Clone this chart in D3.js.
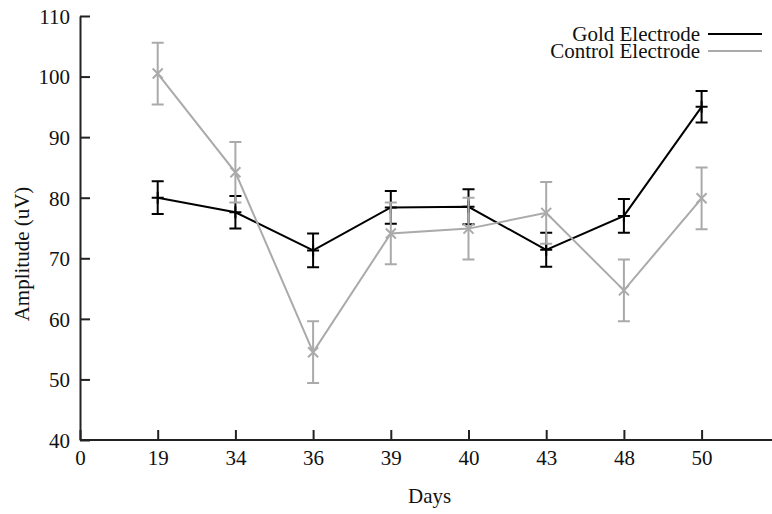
<!DOCTYPE html>
<html>
<head>
<meta charset="utf-8">
<script src="https://cdn.jsdelivr.net/npm/d3@7"></script>
<style>
	body { margin: 0; background: #fff; }
	svg { display: block; }
	text { font-family: "Liberation Serif", "DejaVu Serif", serif; fill: #111; }
</style>
</head>
<body>
<svg id="chart"></svg>
<script>
// data
const days = ['19', '34', '36', '39', '40', '43', '48', '50'];
const tickLabels = ['0', '19', '34', '36', '39', '40', '43', '48', '50'];
const goldValues = [80.0, 77.6, 71.3, 78.4, 78.5, 71.4, 77.0, 95.0];
const goldErrors = [2.7, 2.7, 2.8, 2.7, 2.9, 2.8, 2.8, 2.6];
const controlValues = [100.5, 84.2, 54.5, 74.1, 74.9, 77.5, 64.7, 79.9];
const controlErrors = [5.1, 5.0, 5.1, 5.1, 5.1, 5.1, 5.1, 5.1];
const yTicks = [40, 50, 60, 70, 80, 90, 100, 110];

const width = 772;
const height = 514;
const margin = { left: 80, bottom: 74, top: 16 };

const svg = d3.select('#chart').attr('width', width).attr('height', height);

// slot 0 is the origin, days sit on slots 1..8
const x = d3.scaleLinear().domain([0, 9]).range([margin.left, margin.left + 9 * 77.7]);
const y = d3.scaleLinear().domain([40, 110]).range([height - margin.bottom, margin.top]);

const series = [
	{ name: 'Gold Electrode', values: goldValues, errors: goldErrors, color: '#000', marker: 'plus' },
	{ name: 'Control Electrode', values: controlValues, errors: controlErrors, color: '#aaaaaa', marker: 'cross' }
];

// axes
const xAxis = d3.axisBottom(x)
	.tickValues(d3.range(0, 9))
	.tickFormat((d) => tickLabels[d])
	.tickSizeInner(-10)
	.tickSizeOuter(0)
	.tickPadding(10);

const yAxis = d3.axisLeft(y)
	.tickValues(yTicks)
	.tickSizeInner(-10)
	.tickSizeOuter(0)
	.tickPadding(10);

const gx = svg.append('g')
	.attr('transform', `translate(0,${y(40)})`)
	.call(xAxis);

const gy = svg.append('g')
	.attr('transform', `translate(${margin.left},0)`)
	.call(yAxis);

[gx, gy].forEach((g) => {
	g.select('.domain').attr('stroke', '#222').attr('stroke-width', 2);
	g.selectAll('.tick line').attr('stroke', '#222').attr('stroke-width', 2);
	g.selectAll('.tick text')
		.attr('font-family', '"Liberation Serif", serif')
		.attr('font-size', 21)
		.attr('fill', '#111');
});
gx.selectAll('.tick text').attr('dy', '0.71em');
gy.selectAll('.tick text').attr('dy', '0.35em');
// stretch the x axis to the right edge
gx.select('.domain').attr('d', `M${margin.left},0H${width}`);

// axis labels
svg.append('text')
	.attr('x', x(4.5))
	.attr('y', 503)
	.attr('text-anchor', 'middle')
	.attr('font-size', 21)
	.text('Days');

svg.append('text')
	.attr('transform', `translate(29,254) rotate(-90)`)
	.attr('text-anchor', 'middle')
	.attr('font-size', 21)
	.text('Amplitude (uV)');

const line = d3.line()
	.x((d, i) => x(i + 1))
	.y((d) => y(d));

const cap = 6;
const m = 6;

series.forEach((s) => {
	const g = svg.append('g').attr('stroke', s.color).attr('stroke-width', 2).attr('fill', 'none');

	g.append('path').attr('d', line(s.values));

	// error bars
	const bars = g.selectAll('.err')
		.data(s.values.map((v, i) => ({ i, v, e: s.errors[i] })))
		.join('path')
		.attr('class', 'err')
		.attr('d', (d) => {
			const cx = x(d.i + 1);
			const top = y(d.v + d.e);
			const bot = y(d.v - d.e);
			return `M${cx},${top}V${bot}M${cx - cap},${top}H${cx + cap}M${cx - cap},${bot}H${cx + cap}`;
		});

	// point markers
	g.selectAll('.pt')
		.data(s.values)
		.join('path')
		.attr('class', 'pt')
		.attr('d', (d, i) => {
			const cx = x(i + 1);
			const cy = y(d);
			if (s.marker === 'plus') {
				return `M${cx - m},${cy}H${cx + m}M${cx},${cy - m}V${cy + m}`;
			}
			return `M${cx - m + 1},${cy - m + 1}L${cx + m - 1},${cy + m - 1}M${cx - m + 1},${cy + m - 1}L${cx + m - 1},${cy - m + 1}`;
		});
});

// legend
const legend = svg.append('g');
series.forEach((s, i) => {
	const ly = 34 + i * 17;
	legend.append('text')
		.attr('x', 700)
		.attr('y', ly)
		.attr('dy', '0.35em')
		.attr('text-anchor', 'end')
		.attr('font-size', 21)
		.text(s.name);
	legend.append('line')
		.attr('x1', 708)
		.attr('x2', 762)
		.attr('y1', ly)
		.attr('y2', ly)
		.attr('stroke', s.color)
		.attr('stroke-width', 2);
});
</script>
</body>
</html>
